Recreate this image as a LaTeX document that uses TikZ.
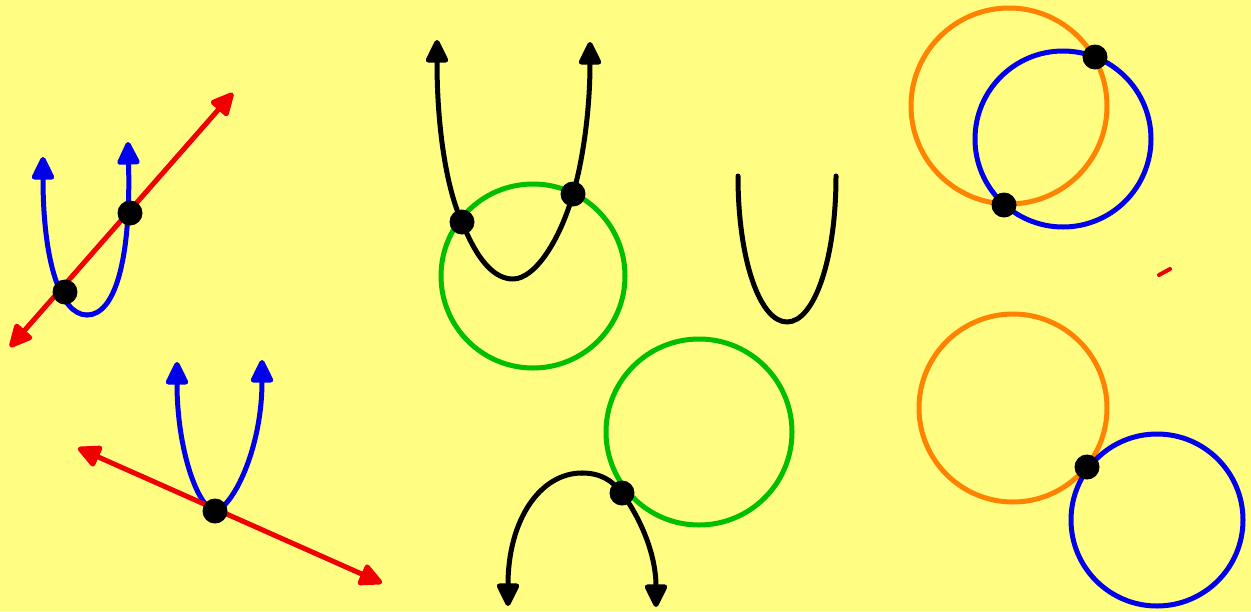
\documentclass[tikz,border=0pt]{standalone}
\usetikzlibrary{arrows.meta}
\definecolor{bgyellow}{RGB}{255,253,130}
\definecolor{myred}{RGB}{240,0,0}
\definecolor{myblue}{RGB}{0,0,235}
\definecolor{mygreen}{RGB}{0,190,0}
\definecolor{myorange}{RGB}{255,130,0}
\tikzset{
  curve/.style={line width=5pt, line cap=round, line join=round},
  tipone/.style={-{Triangle[length=26pt,width=24pt,round]}},
  tipboth/.style={{Triangle[length=26pt,width=24pt,round]}-{Triangle[length=26pt,width=24pt,round]}},
  dot/.style={circle, fill=black, inner sep=0pt, minimum size=25pt},
  ring/.style={line width=5pt}
}
\begin{document}
\begin{tikzpicture}[x=1pt,y=-1pt]
\fill[bgyellow] (0,0) rectangle (1251,611);
\useasboundingbox (0,0) rectangle (1251,611);

% ---------- panel 1: parabola and line, two points ----------
\coordinate (p1a) at (10,347);
\coordinate (p1b) at (233,93);
\coordinate (p1l) at (43,157);
\coordinate (p1r) at (128,142);
\coordinate (p1d1) at (65,292);
\coordinate (p1d2) at (130,213);
\coordinate (p1v) at (87,315);
\draw[curve,myblue,tipone] (p1v) .. controls (60,315) and (43,260) .. (p1l);
\draw[curve,myblue,tipone] (p1v) .. controls (115,315) and (131,260) .. (p1r);
\draw[curve,myred,tipboth] (p1a) -- (p1b);
\node[dot] (n1d1) at (p1d1) {};
\node[dot] (n1d2) at (p1d2) {};

% ---------- panel 2: parabola and tangent line ----------
\coordinate (p2a) at (78,448);
\coordinate (p2b) at (382,583);
\coordinate (p2l) at (177,362);
\coordinate (p2r) at (262,360);
\coordinate (p2d) at (215,511);
\draw[curve,myblue,tipone] (p2d) .. controls (198,508) and (177,450) .. (p2l);
\draw[curve,myblue,tipone] (p2d) .. controls (232,508) and (262,450) .. (p2r);
\draw[curve,myred,tipboth] (p2a) -- (p2b);
\node[dot] (n2d) at (p2d) {};

% ---------- panel 3: parabola and circle ----------
\draw[ring,mygreen] (533,276) circle (92);
\coordinate (p3l) at (437,40);
\coordinate (p3r) at (590,42);
\coordinate (p3d1) at (462,222);
\coordinate (p3d2) at (573,194);
\coordinate (p3v) at (513,279);
\draw[curve,black,tipone] (p3d1) .. controls (447,190) and (437,130) .. (p3l);
\draw[curve,black] (p3d1) .. controls (478,262) and (495,279) .. (p3v)
   .. controls (535,279) and (560,240) .. (p3d2);
\draw[curve,black,tipone] (p3d2) .. controls (583,160) and (590,110) .. (p3r);
\node[dot] (n3d1) at (p3d1) {};
\node[dot] (n3d2) at (p3d2) {};

% ---------- panel 4: downward parabola tangent to circle ----------
\draw[ring,mygreen] (699,432) circle (93);
\coordinate (p4l) at (508,606);
\coordinate (p4r) at (656,607);
\coordinate (p4v) at (582,473);
\coordinate (p4d) at (622,493);
\draw[curve,black,tipone] (p4v) .. controls (540,473) and (508,520) .. (p4l);
\draw[curve,black] (p4v) .. controls (600,473) and (612,480) .. (p4d);
\draw[curve,black,tipone] (p4d) .. controls (645,525) and (656,560) .. (p4r);
\node[dot] (n4d) at (p4d) {};

% ---------- lone parabola ----------
\coordinate (p5l) at (738,176);
\coordinate (p5r) at (836,176);
\coordinate (p5v) at (787,322);
\draw[curve,black] (p5l) .. controls (738,260) and (760,322) .. (p5v)
   .. controls (814,322) and (836,260) .. (p5r);

% ---------- two circles, two points ----------
\draw[ring,myorange] (1009,106) circle (98);
\draw[ring,myblue] (1063,139) circle (88);
\node[dot] (n6d1) at (1095,57) {};
\node[dot] (n6d2) at (1004,205) {};

% ---------- two circles, tangent ----------
\draw[ring,myorange] (1013,408) circle (94);
\draw[ring,myblue] (1157,520) circle (86);
\node[dot] (n7d) at (1087,467) {};

% small red stroke
\coordinate (m1) at (1159,275);
\coordinate (m2) at (1170,269);
\draw[curve,myred,line width=4pt] (m1) -- (m2);
\end{tikzpicture}
\end{document}
